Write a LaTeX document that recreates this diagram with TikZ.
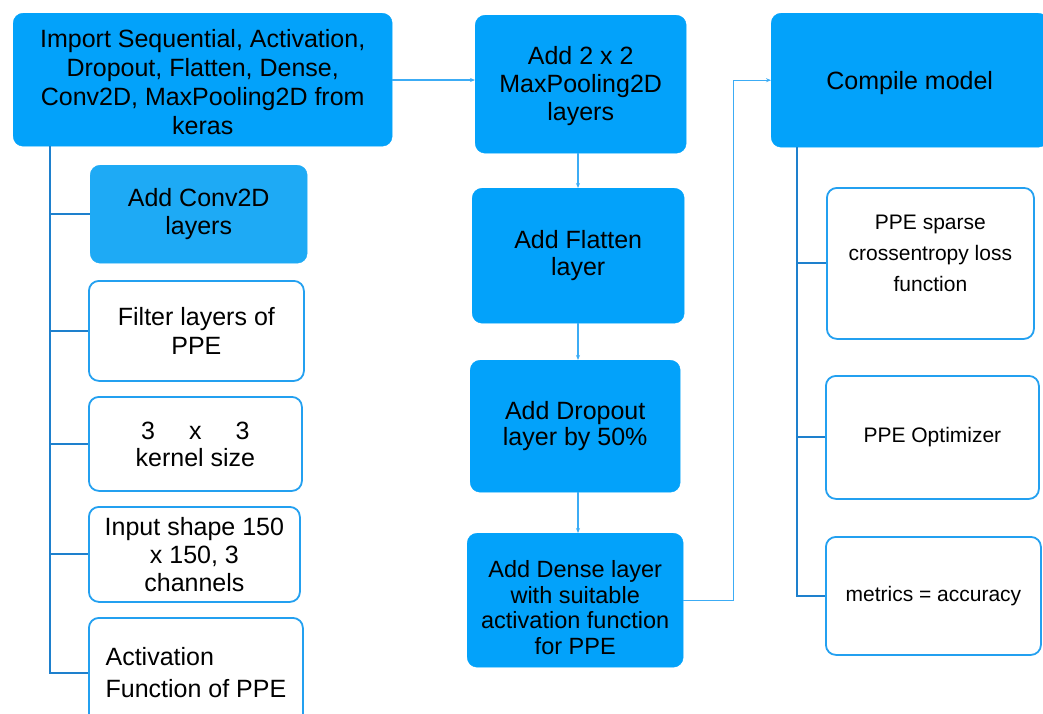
\documentclass[tikz,border=0pt]{standalone}
\usepackage{fontspec}
\setmainfont{Liberation Sans}
\usetikzlibrary{arrows.meta,calc}
\definecolor{boxblue}{RGB}{3,162,250}
\definecolor{lightblue}{RGB}{30,170,245}
\definecolor{edgeblue}{RGB}{35,160,240}
\definecolor{trunkblue}{RGB}{30,128,205}
\definecolor{arrowblue}{RGB}{60,172,245}
\tikzset{
  x=1pt,y=-1pt,
  basebox/.style={anchor=north west, inner sep=0pt, rounded corners=10pt, align=center, text=black},
  bluebox/.style={basebox, fill=boxblue, draw=boxblue},
  lbluebox/.style={basebox, fill=lightblue, draw=lightblue},
  whitebox/.style={basebox, fill=white, draw=edgeblue, line width=1.8pt},
  bigtext/.style={font=\fontsize{25}{29}\selectfont},
  smalltext/.style={font=\fontsize{21}{31}\selectfont},
  trunk/.style={draw=trunkblue, line width=2pt},
  flow/.style={draw=arrowblue, line width=1.2pt, -{Stealth[length=5pt,width=4pt]}},
}
\begin{document}
\begin{tikzpicture}
\useasboundingbox (0,0) rectangle (1043,713);
\clip (0,0) rectangle (1043,713);
% left column
\node[bluebox, bigtext, minimum width=379, minimum height=133] (import) at (13,13)
  {\rule{0pt}{22pt}Import Sequential, Activation,\\Dropout, Flatten, Dense,\\Conv2D, MaxPooling2D from\\keras};
\node[lbluebox, font=\fontsize{25}{28}\selectfont, minimum width=217, minimum height=98] (conv) at (90,165)
  {Add Conv2D\\layers};
\node[whitebox, font=\fontsize{25}{29}\selectfont, minimum width=215, minimum height=100] (filter) at (88,280)
  {Filter layers of\\PPE};
\node[whitebox, font=\fontsize{25}{27}\selectfont, minimum width=213, minimum height=94] (kernel) at (88,396)
  {3\hspace{34pt}x\hspace{34pt}3\\kernel size};
\node[whitebox, font=\fontsize{25}{28}\selectfont, minimum width=211, minimum height=95] (input) at (88,506)
  {Input shape 150\\x 150, 3\\channels};
\node[whitebox, font=\fontsize{25}{32}\selectfont, align=left, minimum width=214, minimum height=110] (act) at (88,617)
  {Activation\\Function of PPE};
% middle column
\node[bluebox, font=\fontsize{25}{28}\selectfont, minimum width=211, minimum height=138] (maxpool) at (475,15)
  {\rule{0pt}{22pt}Add 2 x 2\\MaxPooling2D\\layers};
\node[bluebox, font=\fontsize{25}{27}\selectfont, minimum width=212, minimum height=135] (flatten) at (472,188)
  {Add Flatten\\layer};
\node[bluebox, font=\fontsize{25}{26}\selectfont, minimum width=210, minimum height=132] (dropout) at (470,360)
  {Add Dropout\\layer by 50\%};
\node[bluebox, font=\fontsize{23.5}{25.5}\selectfont, minimum width=216, minimum height=134] (dense) at (467,533)
  {\rule{0pt}{32pt}Add Dense layer\\with suitable\\activation function\\for PPE};
% right column
\node[bluebox, bigtext, minimum width=277, minimum height=134] (compile) at (771,13)
  {\rule{0pt}{24pt}Compile model};
\node[whitebox, smalltext, minimum width=207, minimum height=151] (loss) at (826,187)
  {PPE sparse\\crossentropy loss\\function\rule[-21pt]{0pt}{1pt}};
\node[whitebox, smalltext, minimum width=213, minimum height=123] (optim) at (825,375)
  {PPE Optimizer};
\node[whitebox, smalltext, minimum width=215, minimum height=118] (metrics) at (825,536)
  {metrics = accuracy};
% left trunk
\coordinate (ltop) at ($(import.south west)+(37,0)$);
\draw[trunk] (ltop) |- (act.west);
\foreach \n in {conv,filter,kernel,input} \draw[trunk] (ltop |- \n.west) -- (\n.west);
% right trunk
\coordinate (rtop) at ($(compile.south west)+(26,0)$);
\draw[trunk] (rtop) |- (metrics.west);
\foreach \n in {loss,optim} \draw[trunk] (rtop |- \n.west) -- (\n.west);
% flow arrows
\draw[flow] (import.east |- 0,80) -- (maxpool.west |- 0,80);
\coordinate (mx) at (578,0);
\draw[flow] (mx |- maxpool.south) -- (mx |- flatten.north);
\draw[flow] (mx |- flatten.south) -- (mx |- dropout.north);
\draw[flow] (mx |- dropout.south) -- (mx |- dense.north);
\coordinate (bend) at ($(dense.east)+(50,0)$);
\draw[flow] (dense.east) -- (bend) |- (compile.west);
\end{tikzpicture}
\end{document}
